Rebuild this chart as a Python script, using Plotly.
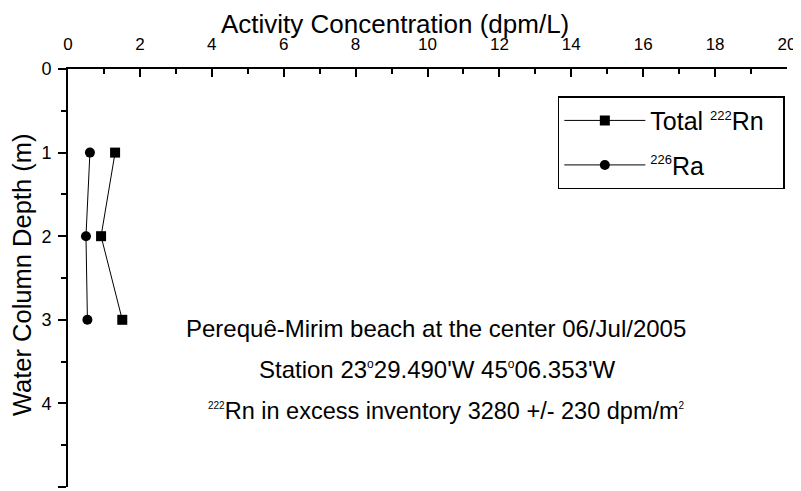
import plotly.graph_objects as go

depth = [1, 2, 3]
rn_total = [1.31, 0.92, 1.51]
ra_226 = [0.61, 0.50, 0.54]

x_ticks = list(range(0, 21, 2))
y_ticks = [0, 1, 2, 3, 4, 5]

FONT = "Arial, Liberation Sans, sans-serif"


def sup(t, size):
    return f"<sup><span style='font-size:{size}px'>{t}</span></sup>"


fig = go.Figure()
fig.add_trace(go.Scatter(
    x=rn_total, y=depth, mode="lines+markers",
    name="Total " + sup("222", 13) + "Rn&nbsp;&nbsp;",
    legendgroup="a",
    line=dict(color="black", width=1),
    marker=dict(symbol="square", size=10, color="black"),
))
fig.add_trace(go.Scatter(
    x=ra_226, y=depth, mode="lines+markers", name=sup("226", 13) + "Ra",
    legendgroup="b",
    line=dict(color="black", width=1),
    marker=dict(symbol="circle", size=10, color="black"),
))

fig.update_layout(
    width=793, height=483,
    margin=dict(l=60, r=14, t=61, b=4),
    paper_bgcolor="white", plot_bgcolor="white",
    font=dict(family=FONT, color="black", size=17),
    showlegend=True,
    legend=dict(
        x=0.997, xanchor="right", y=0.935, yanchor="top",
        bordercolor="black", borderwidth=1.5, bgcolor="white",
        font=dict(size=25, family=FONT),
        traceorder="grouped", tracegroupgap=9,
        itemwidth=81,
    ),
    xaxis=dict(
        side="top", range=[0, 20], tickvals=x_ticks,
        ticks="inside", ticklen=8, tickwidth=1.5, tickcolor="black",
        minor=dict(dtick=1, ticks="inside", ticklen=5, tickwidth=1.5, tickcolor="black"),
        showline=True, linecolor="black", linewidth=2,
        showgrid=False, zeroline=False, mirror=False,
        tickfont=dict(size=17), automargin=False,
        ticklabelstandoff=10,
    ),
    yaxis=dict(
        range=[5, 0], tickvals=y_ticks,
        ticks="outside", ticklen=8, tickwidth=1.5, tickcolor="black",
        minor=dict(dtick=0.5, ticks="outside", ticklen=5, tickwidth=1.5, tickcolor="black"),
        showline=True, linecolor="black", linewidth=2,
        showgrid=False, zeroline=False, mirror=False,
        tickfont=dict(size=18), automargin=False,
        ticklabelstandoff=3,
    ),
)

fig.add_annotation(
    text="Activity Concentration (dpm/L)", xref="paper", yref="paper",
    x=0.455, y=1.107, xanchor="center", yanchor="middle", showarrow=False,
    font=dict(size=26),
)
fig.add_annotation(
    text="Water Column Depth (m)", xref="paper", yref="paper",
    x=-0.064, y=0.507, xanchor="center", yanchor="middle", showarrow=False,
    textangle=-90, font=dict(size=25.5),
)

notes = [
    "Perequê-Mirim beach at the center 06/Jul/2005",
    "Station 23" + sup("o", 12) + "29.490'W 45" + sup("o", 12) + "06.353'W",
    sup("222", 10) + "Rn in excess inventory 3280 +/- 230 dpm/m" + sup("2", 10),
]
note_y = [0.378, 0.28, 0.183]
note_x = [0.5125, 0.513, 0.527]
note_size = [24, 24, 23.5]
for t, yy, xx, fs in zip(notes, note_y, note_x, note_size):
    fig.add_annotation(text=t, xref="paper", yref="paper", x=xx, y=yy,
                       xanchor="center", yanchor="middle", showarrow=False,
                       font=dict(size=fs))

fig.write_html("out.html")
